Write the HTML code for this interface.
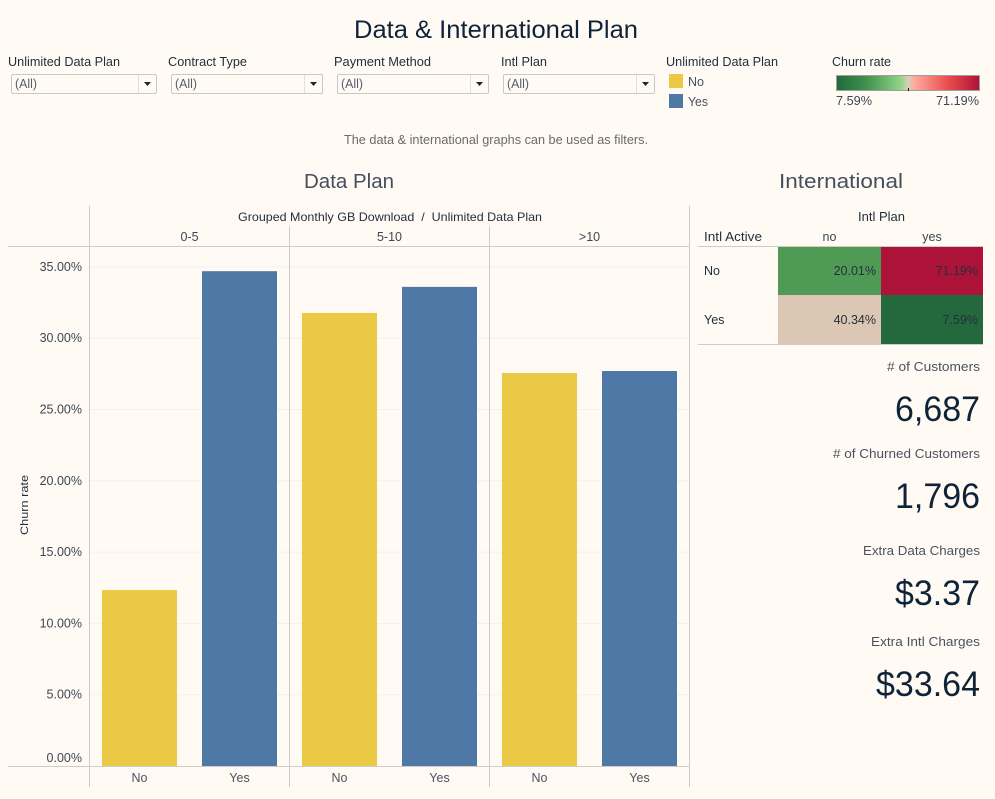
<!DOCTYPE html>
<html lang="en">
<head>
<meta charset="utf-8">
<title>Data &amp; International Plan</title>
<style>
html,body{margin:0;padding:0;background:#fffbf4;width:995px;height:799px;overflow:hidden}
svg{display:block;font-family:"Liberation Sans",sans-serif}
</style>
</head>
<body>
<svg id="dash" xmlns="http://www.w3.org/2000/svg" width="995" height="799" viewBox="0 0 995 799">
<defs>
<linearGradient id="ramp" x1="0" x2="1" y1="0" y2="0">
<stop offset="0" stop-color="#1f6a3b"/>
<stop offset="0.2" stop-color="#3f8f4d"/>
<stop offset="0.45" stop-color="#92d485"/>
<stop offset="0.5" stop-color="#d4d0bd"/>
<stop offset="0.55" stop-color="#ffa899"/>
<stop offset="0.78" stop-color="#ea4d4d"/>
<stop offset="1" stop-color="#ad1238"/>
</linearGradient>
</defs>
<rect x="0" y="0" width="995" height="799" fill="#fffbf4"/>
<text x="354" y="38" font-size="25" fill="#0f2338" textLength="284" lengthAdjust="spacingAndGlyphs">Data &amp; International Plan</text>

<g font-size="12.500" fill="#1f2d3d">
<text x="8" y="66" textLength="112" lengthAdjust="spacingAndGlyphs">Unlimited Data Plan</text>
<text x="168" y="66" textLength="79" lengthAdjust="spacingAndGlyphs">Contract Type</text>
<text x="334" y="66" textLength="97" lengthAdjust="spacingAndGlyphs">Payment Method</text>
<text x="501" y="66" textLength="46" lengthAdjust="spacingAndGlyphs">Intl Plan</text>
<text x="666" y="66" textLength="112" lengthAdjust="spacingAndGlyphs">Unlimited Data Plan</text>
<text x="832" y="66" textLength="59" lengthAdjust="spacingAndGlyphs">Churn rate</text>
</g>

<g>
<rect x="11.5" y="74.5" width="145" height="19" rx="1.5" fill="#fffbf4" stroke="#c8c8c8"/>
<line x1="138.5" x2="138.5" y1="75" y2="93" stroke="#e2e0dc"/>
<path d="M144 82h7l-3.500 4z" fill="#1a2733"/>
<text x="15" y="88" font-size="12.500" fill="#555c6b" textLength="22" lengthAdjust="spacingAndGlyphs">(All)</text>
</g>
<g>
<rect x="171.5" y="74.5" width="151" height="19" rx="1.5" fill="#fffbf4" stroke="#c8c8c8"/>
<line x1="304.5" x2="304.5" y1="75" y2="93" stroke="#e2e0dc"/>
<path d="M310 82h7l-3.500 4z" fill="#1a2733"/>
<text x="175" y="88" font-size="12.500" fill="#555c6b" textLength="22" lengthAdjust="spacingAndGlyphs">(All)</text>
</g>
<g>
<rect x="337.500" y="74.5" width="151" height="19" rx="1.5" fill="#fffbf4" stroke="#c8c8c8"/>
<line x1="470.5" x2="470.5" y1="75" y2="93" stroke="#e2e0dc"/>
<path d="M476 82h7l-3.500 4z" fill="#1a2733"/>
<text x="341" y="88" font-size="12.500" fill="#555c6b" textLength="22" lengthAdjust="spacingAndGlyphs">(All)</text>
</g>
<g>
<rect x="503.5" y="74.5" width="151" height="19" rx="1.5" fill="#fffbf4" stroke="#c8c8c8"/>
<line x1="636.5" x2="636.5" y1="75" y2="93" stroke="#e2e0dc"/>
<path d="M642 82h7l-3.500 4z" fill="#1a2733"/>
<text x="507" y="88" font-size="12.500" fill="#555c6b" textLength="22" lengthAdjust="spacingAndGlyphs">(All)</text>
</g>

<g>
<rect x="669" y="74" width="14" height="14" fill="#ebc944"/>
<text x="688" y="86" font-size="12.500" fill="#4a5260" textLength="16" lengthAdjust="spacingAndGlyphs">No</text>
<rect x="669" y="94" width="14" height="14" fill="#4e79a7"/>
<text x="688" y="106" font-size="12.500" fill="#4a5260" textLength="20" lengthAdjust="spacingAndGlyphs">Yes</text>
</g>

<g>
<rect x="836.500" y="75.500" width="143" height="15" fill="url(#ramp)" stroke="#a0a0a0"/>
<line x1="908.500" x2="908.500" y1="88" y2="91" stroke="#111111"/>
<text x="836" y="105" font-size="12.500" fill="#3c4654" textLength="36" lengthAdjust="spacingAndGlyphs">7.59%</text>
<text x="936" y="105" font-size="12.500" fill="#3c4654" textLength="43" lengthAdjust="spacingAndGlyphs">71.19%</text>
</g>

<text x="344" y="144" font-size="12.500" fill="#6a6a6a" textLength="304" lengthAdjust="spacingAndGlyphs">The data &amp; international graphs can be used as filters.</text>

<text x="304" y="188" font-size="20" fill="#454f5c" textLength="90" lengthAdjust="spacingAndGlyphs">Data Plan</text>
<text x="779" y="188" font-size="20" fill="#454f5c" textLength="124" lengthAdjust="spacingAndGlyphs">International</text>

<g id="chart">
<g id="grid"></g>
<g id="bars"></g>
<g id="yticks" font-size="12.500" fill="#3c4654" text-anchor="end"></g>
<g id="xlabels" font-size="12.500" fill="#4a5260" text-anchor="middle"></g>
<g id="groups" font-size="12.500" fill="#3c4654" text-anchor="middle"></g>
<g stroke="#cfcbc6" stroke-width="1">
<line x1="89.500" x2="89.500" y1="206" y2="787"/>
<line x1="289.500" x2="289.500" y1="226" y2="787"/>
<line x1="489.500" x2="489.500" y1="226" y2="787"/>
<line x1="689.500" x2="689.500" y1="206" y2="787"/>
<line x1="8" x2="689" y1="246.500" y2="246.500"/>
<line x1="8" x2="689" y1="766.500" y2="766.500"/>
</g>
<text x="238" y="221" font-size="12" fill="#1f2d3d" textLength="304" lengthAdjust="spacingAndGlyphs">Grouped Monthly GB Download&#160;&#160;/&#160;&#160;Unlimited Data Plan</text>
<text transform="translate(28,505) rotate(-90)" font-size="11" fill="#1f2d3d" text-anchor="middle" textLength="60" lengthAdjust="spacingAndGlyphs">Churn rate</text>
</g>

<g id="heatmap">
<text x="858" y="221" font-size="12.500" fill="#1f2d3d" textLength="47" lengthAdjust="spacingAndGlyphs">Intl Plan</text>
<text x="704" y="241" font-size="12.500" fill="#1f2d3d" textLength="58" lengthAdjust="spacingAndGlyphs">Intl Active</text>
<g id="cells"></g>
<line x1="698" x2="983" y1="246.500" y2="246.500" stroke="#cfcbc6"/>
<line x1="698" x2="983" y1="344.500" y2="344.500" stroke="#cfcbc6"/>
</g>

<g text-anchor="end">
<text x="980" y="371" font-size="12.500" fill="#4a5260" textLength="93" lengthAdjust="spacingAndGlyphs"># of Customers</text>
<text x="980" y="421" font-size="35" fill="#0f2338" textLength="85" lengthAdjust="spacingAndGlyphs">6,687</text>
<text x="980" y="458" font-size="12.500" fill="#4a5260" textLength="147" lengthAdjust="spacingAndGlyphs"># of Churned Customers</text>
<text x="980" y="508" font-size="35" fill="#0f2338" textLength="85" lengthAdjust="spacingAndGlyphs">1,796</text>
<text x="980" y="555" font-size="12.500" fill="#4a5260" textLength="117" lengthAdjust="spacingAndGlyphs">Extra Data Charges</text>
<text x="980" y="605" font-size="35" fill="#0f2338" textLength="85" lengthAdjust="spacingAndGlyphs">$3.37</text>
<text x="980" y="646" font-size="12.500" fill="#4a5260" textLength="109" lengthAdjust="spacingAndGlyphs">Extra Intl Charges</text>
<text x="980" y="696" font-size="35" fill="#0f2338" textLength="104" lengthAdjust="spacingAndGlyphs">$33.64</text>
</g>
</svg>
<script>
const groupLabels = ['0-5', '5-10', '>10'];
const planLabels = ['No', 'Yes'];
const churnByGroupNo = [12.34, 31.77, 27.56];
const churnByGroupYes = [34.7, 33.6, 27.7];
const yTickValues = [0, 5, 10, 15, 20, 25, 30, 35];
const planColors = ['#ebc944', '#4e79a7'];

const intlPlanLabels = ['no', 'yes'];
const intlActiveLabels = ['No', 'Yes'];
const heatNoRow = [20.01, 71.19];
const heatYesRow = [40.34, 7.59];

const NS = 'http://www.w3.org/2000/svg';
const yOf = function (v) { return 766 - v * 14.26; };
const groupLeft = function (g) { return 89.5 + g * 200; };
const barLeft = function (g, p) { return groupLeft(g) + 12.5 + p * 100; };
const BAR_W = 75;

function mk(tag, parent, attrs, txt) {
  const el = document.createElementNS(NS, tag);
  Object.keys(attrs).forEach(function (k) { el.setAttribute(k, attrs[k]); });
  if (txt !== undefined) el.textContent = txt;
  parent.appendChild(el);
  return el;
}

const gridG = document.getElementById('grid');
const tickG = document.getElementById('yticks');
yTickValues.forEach(function (v) {
  const y = yOf(v);
  if (v > 0) {
    const ln = mk('line', gridG, { x1: 90, x2: 689, y1: y, y2: y, stroke: '#f3f0ea', 'stroke-width': 1 });
    
    
  }
  const labelY = v === 0 ? y - 4 : y + 4;
  const t = mk('text', tickG, { x: 82, y: labelY }, v.toFixed(2) + '%');
  
  
});

const barsG = document.getElementById('bars');
const xG = document.getElementById('xlabels');
const headG = document.getElementById('groups');
groupLabels.forEach(function (label, g) {
  const head = mk('text', headG, { x: groupLeft(g) + 100, y: 241 }, label);
  
  
  [churnByGroupNo, churnByGroupYes].forEach(function (series, p) {
    const top = yOf(series[g]);
    const r = mk('rect', barsG, { x: barLeft(g, p), y: top, width: BAR_W, height: 766 - top, fill: planColors[p] });
    
    
    const xl = mk('text', xG, { x: barLeft(g, p) + BAR_W / 2, y: 782 }, planLabels[p]);
    
    
  });
});

const heatColor = function (v) {
  if (v < 10) return '#24693d';
  if (v < 30) return '#4f9a54';
  if (v < 50) return '#dcc7b5';
  return '#ad1238';
};
const cellsG = document.getElementById('cells');
const colX = [778, 881];
const colW = [103, 102];
const rowY = [247, 295];
const rowH = [48, 49];
intlPlanLabels.forEach(function (label, c) {
  const t = mk('text', cellsG, { x: colX[c] + colW[c] / 2, y: 241, 'font-size': 12.5, fill: '#3c4654', 'text-anchor': 'middle' }, label);
  
  
});
[heatNoRow, heatYesRow].forEach(function (row, r) {
  const rl = mk('text', cellsG, { x: 704, y: rowY[r] + 28 + r, 'font-size': 12.5, fill: '#1f2d3d' }, intlActiveLabels[r]);
  
  
  row.forEach(function (v, c) {
    const cell = mk('rect', cellsG, { x: colX[c], y: rowY[r], width: colW[c], height: rowH[r], fill: heatColor(v) });
    
    
    const val = mk('text', cellsG, { x: colX[c] + colW[c] - 5, y: rowY[r] + 28 + r, 'font-size': 12.5, fill: '#26303c', 'text-anchor': 'end' }, v.toFixed(2) + '%');
    
    
  });
});
</script>
</body>
</html>
